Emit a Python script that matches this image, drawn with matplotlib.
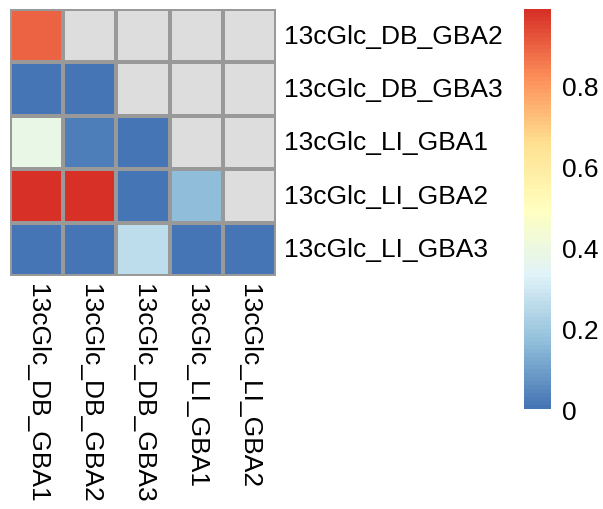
import numpy as np
import matplotlib
matplotlib.use("Agg")
import matplotlib.pyplot as plt
from matplotlib.colors import LinearSegmentedColormap

# data (NaN = empty upper triangle)
row_labels = ["13cGlc_DB_GBA2", "13cGlc_DB_GBA3", "13cGlc_LI_GBA1",
              "13cGlc_LI_GBA2", "13cGlc_LI_GBA3"]
col_labels = ["13cGlc_DB_GBA1", "13cGlc_DB_GBA2", "13cGlc_DB_GBA3",
              "13cGlc_LI_GBA1", "13cGlc_LI_GBA2"]
nan = np.nan
values = np.array([
    [0.90,  nan,   nan,   nan,   nan],
    [0.005, 0.005, nan,   nan,   nan],
    [0.385, 0.02,  0.005, nan,   nan],
    [0.99,  0.985, 0.005, 0.165, nan],
    [0.003, 0.003, 0.265, 0.0,   0.0],
])
cbar_ticks = [0, 0.2, 0.4, 0.6, 0.8]

plt.rcParams['font.family'] = ['Liberation Sans', 'DejaVu Sans']

# pheatmap default palette: rev(RdYlBu 7) ramped to 100
rdylbu = ["#4575B4", "#91BFDB", "#E0F3F8", "#FFFFBF", "#FEE090", "#FC8D59", "#D73027"]
cmap = LinearSegmentedColormap.from_list("ph", rdylbu, N=100)
cmap.set_bad("#DDDDDD")

W, H = 603, 510
fig = plt.figure(figsize=(W / 100, H / 100), dpi=100)

# heatmap cells
ax = fig.add_axes([10 / W, 1 - 277 / H, 266 / W, 267 / H])
vmin, vmax = np.nanmin(values), np.nanmax(values)
mesh = ax.pcolormesh(np.ma.masked_invalid(values), cmap=cmap, vmin=vmin, vmax=vmax,
                     edgecolors="#999999", linewidth=1.5)
ax.set_xlim(0, 5)
ax.set_ylim(5, 0)
for s in ax.spines.values():
    s.set_visible(False)
ax.set_xticks([])
ax.set_yticks([])

fs = 19
for i, lab in enumerate(row_labels):
    ax.text(5.15, i + 0.5, lab, ha="left", va="center", fontsize=fs)
for j, lab in enumerate(col_labels):
    ax.text(j + 0.5, 5.14, lab, ha="center", va="top", rotation=270, fontsize=fs)

# legend colour bar
cax = fig.add_axes([524 / W, 1 - 410 / H, 27 / W, 400 / H])
cb = fig.colorbar(mesh, cax=cax, ticks=cbar_ticks)
cb.outline.set_visible(False)
cb.ax.set_yticklabels([("%g" % t) for t in cbar_ticks])
cb.ax.tick_params(length=0, pad=8, labelsize=fs)

fig.savefig("out.png", dpi=100)
